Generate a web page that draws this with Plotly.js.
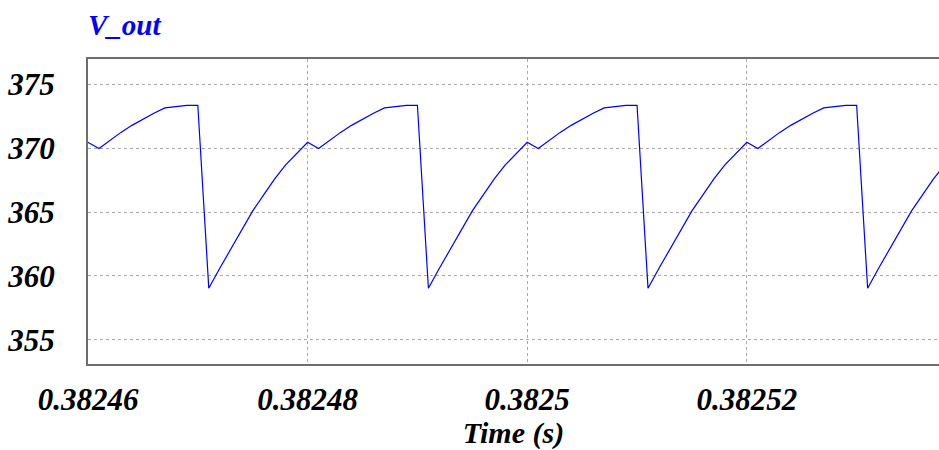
<!DOCTYPE html>
<html>
<head>
<meta charset="utf-8">
<script src="https://cdn.plot.ly/plotly-3.0.1.min.js"></script>
<style>html,body{margin:0;padding:0;background:#fff;}#chart{width:939px;height:450px;}</style>
</head>
<body>
<div id="chart"></div>
<script>
// Time samples (s)
const time = [
  0.382459, 0.382460, 0.382461, 0.382462, 0.382463, 0.382464, 0.382465, 0.382466, 0.382467, 0.382468,
  0.382469, 0.382470, 0.382471, 0.382472, 0.382473, 0.382474, 0.382475, 0.382476, 0.382477, 0.382478,
  0.382479, 0.382480, 0.382481, 0.382482, 0.382483, 0.382484, 0.382485, 0.382486, 0.382487, 0.382488,
  0.382489, 0.382490, 0.382491, 0.382492, 0.382493, 0.382494, 0.382495, 0.382496, 0.382497, 0.382498,
  0.382499, 0.382500, 0.382501, 0.382502, 0.382503, 0.382504, 0.382505, 0.382506, 0.382507, 0.382508,
  0.382509, 0.382510, 0.382511, 0.382512, 0.382513, 0.382514, 0.382515, 0.382516, 0.382517, 0.382518,
  0.382519, 0.382520, 0.382521, 0.382522, 0.382523, 0.382524, 0.382525, 0.382526, 0.382527, 0.382528,
  0.382529, 0.382530, 0.382531, 0.382532, 0.382533, 0.382534, 0.382535, 0.382536, 0.382537, 0.382538
];
// V_out (V)
const vOut = [
  369.60, 370.47, 369.98, 370.65, 371.25, 371.80, 372.30, 372.75, 373.17, 373.27,
  373.36, 373.37, 359.03, 360.60, 362.10, 363.65, 365.10, 366.35, 367.60, 368.70,
  369.60, 370.47, 369.98, 370.65, 371.25, 371.80, 372.30, 372.75, 373.17, 373.27,
  373.36, 373.37, 359.03, 360.60, 362.10, 363.65, 365.10, 366.35, 367.60, 368.70,
  369.60, 370.47, 369.98, 370.65, 371.25, 371.80, 372.30, 372.75, 373.17, 373.27,
  373.36, 373.37, 359.03, 360.60, 362.10, 363.65, 365.10, 366.35, 367.60, 368.70,
  369.60, 370.47, 369.98, 370.65, 371.25, 371.80, 372.30, 372.75, 373.17, 373.27,
  373.36, 373.37, 359.03, 360.60, 362.10, 363.65, 365.10, 366.35, 367.60, 368.70
];
const xTickVals = [0.38246, 0.38248, 0.38250, 0.38252];
const xTickText = ['0.38246', '0.38248', '0.3825', '0.38252'];
const yTickVals = [355, 360, 365, 370, 375];
const yTickText = ['355', '360', '365', '370', '375'];

const serif = '"Liberation Serif", "Times New Roman", serif';

const trace = {
  x: time, y: vOut, type: 'scatter', mode: 'lines',
  line: {color: '#0000ff', width: 1.2},
  hoverinfo: 'skip', showlegend: false
};

const layout = {
  width: 939, height: 450,
  paper_bgcolor: '#ffffff', plot_bgcolor: '#ffffff',
  margin: {l: 88, r: 0, t: 59, b: 86},
  showlegend: false,
  title: {
    text: 'V_out',
    font: {family: serif, size: 29, color: '#0000ff', weight: 'bold', style: 'italic'},
    xref: 'paper', x: 0, xanchor: 'left',
    yref: 'container', y: 1 - 25/450, yanchor: 'middle'
  },
  xaxis: {
    range: [0.38246, 0.3825375],
    tickmode: 'array', tickvals: xTickVals, ticktext: xTickText,
    showgrid: true, gridcolor: '#a8a8a8', griddash: 'dot', gridwidth: 1,
    zeroline: false,
    showline: true, linecolor: '#6e6e6e', linewidth: 2, mirror: true,
    ticks: '', ticklabelstandoff: 7,
    tickfont: {family: serif, size: 31, color: '#000000', weight: 'bold', style: 'italic'},
    title: {
      text: 'Time (s)', standoff: 16,
      font: {family: serif, size: 30, color: '#000000', weight: 'bold', style: 'italic'}
    }
  },
  yaxis: {
    range: [353.1, 377],
    tickmode: 'array', tickvals: yTickVals, ticktext: yTickText,
    showgrid: true, gridcolor: '#a8a8a8', griddash: 'dot', gridwidth: 1,
    zeroline: false,
    showline: true, linecolor: '#6e6e6e', linewidth: 2, mirror: false,
    ticks: '', ticklabelstandoff: 25,
    tickfont: {family: serif, size: 31, color: '#000000', weight: 'bold', style: 'italic'}
  }
};

Plotly.newPlot('chart', [trace], layout, {staticPlot: true, displayModeBar: false});
</script>
</body>
</html>
